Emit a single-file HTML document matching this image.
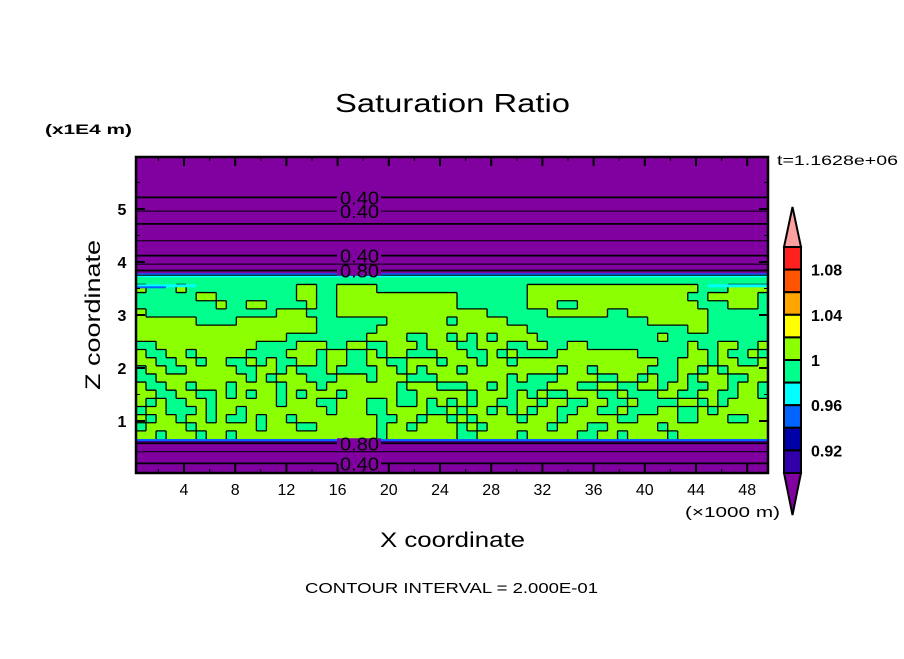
<!DOCTYPE html>
<html><head><meta charset="utf-8"><style>
body{margin:0;background:#fff;width:904px;height:654px;overflow:hidden}
svg text{font-family:"Liberation Sans","DejaVu Sans",sans-serif}
</style></head><body>
<svg id="chart" width="904" height="654" viewBox="0 0 904 654" xmlns="http://www.w3.org/2000/svg">
<text x="335" y="112" font-size="26" textLength="235" lengthAdjust="spacingAndGlyphs">Saturation Ratio</text>
<text x="45" y="134" font-size="14" font-weight="bold" textLength="87" lengthAdjust="spacingAndGlyphs">(x1E4 m)</text>
<text x="777" y="165" font-size="14" textLength="121" lengthAdjust="spacingAndGlyphs">t=1.1628e+06</text>
<g id="plot"></g>
<g id="axes"></g>
<g id="cbar"></g>
<text transform="translate(100,390) rotate(-90)" font-size="21" textLength="150" lengthAdjust="spacingAndGlyphs">Z coordinate</text>
<text x="685" y="517" font-size="15" textLength="95" lengthAdjust="spacingAndGlyphs">(×1000 m)</text>
<text x="380" y="547" font-size="21" textLength="145" lengthAdjust="spacingAndGlyphs">X coordinate</text>
<text x="305" y="593" font-size="15" textLength="293" lengthAdjust="spacingAndGlyphs">CONTOUR INTERVAL = 2.000E-01</text>
</svg>
<script>
const xTicks=[4,8,12,16,20,24,28,32,36,40,44,48];
const zTicks=[1,2,3,4,5];
const upperContours=[5.22,4.96,4.72,4.40,4.12,3.96,3.84,3.75];
const upperLabels=[["0.40",5.22],["0.40",4.96],["0.40",4.12],["0.80",3.84]];
const lowerContours=[0.58,0.42,0.20];
const lowerLabels=[["0.80",0.58],["0.40",0.20]];
const cbarLevels=["1.08","1.04","1","0.96","0.92"];
const cbarColors=["#ff2020","#ff5500","#ffa500","#ffff00","#8cff00","#00ff8c","#00ffff","#0064ff","#0000a8","#3200a8"];
const fieldRows=[
"GGGGGGGGGGGGGGGGGGGGGGGGGGGGGGGGGGGGGGGGGGGGGGGGGGGGGGGGGGGGGGG",
"LGGGLGGGGGGGGGGGLLGGLLLLGGGGGGGGGGGGGGGLLLLLLLLLLLLLLLLLGGGLLLL",
"GGGGGGLLGGGGGGGGLLGGLLLLLLLLLLLLGGGGGGGLLLLLLLLLLLLLLLLGGLLLLLG",
"GGGGGGGGLGGLLGGGGLGGLLLLLLLLLLLLGGGGGGGLLLGGLLLLLLLLLLLLGGGLLLG",
"LGGGGGGGGGGGGGLLLGGGLLLLLLLLLLLLLLLGGGGGGLLLLLLGGLLLLLLLLGGGGGG",
"LLLLLLGGGGLLLLLLLLGGGGGGGLLLLLLGLLLLLGGGGGGGGGGGGGGLLLLLLGGGGGG",
"LLLLLLLLLLLLLLLLLLGGGGGGLLLLLLLLLLLLLLLGGGGGGGGGGGGGGGGLLGGGGGG",
"LLLLLLLLLLLLLLLGGGGGGGGLLLLGGLLGLGLGLLLLGGGGGGGGGGGGLGGGGGGGGGG",
"GGLLLLLLLLLLGGGGLLLGGLLGGLLLGLLLGGLLLGGLLGGLLGGGGGGGGGGLGGLLGGL",
"LGGLLGLLLLLGGGGLLLGLLGGLGLLGGGLLLGGLGLGGGGLLLLLLLLGGGGGLLGLGGLG",
"LLGGLLGLLGGLGLGGLLGLLGGLLGGLLLGLLLGLLGLLLLLLLLLLLLLLGGLLLGLLGGL",
"GLLGGLLLLLGGLLGLGGGLGGGGLLGLGLLLGLLLLLLLLLGLLGLLLLLGGGLLGLGLLLL",
"GGLLLLLLLLLGLGLLLGGGLLLGLLLGGGLLLLLLLGLGGGLLLLGGLLGLGGLGLLLGGLL",
"LGGLLGLLLGLLLLGLLLGLLLLLLLGLLLGGGLLGLGGGGLLLGGLLGGLLGLLGGLLGLLG",
"LLGGLLGGLGLGLLGLGLLLGLLLLLGGLLLLLGLLLGLGLGGLLLGGLGGGLLGGLLGGLLG",
"LGLGGLLGLLLLLLGLLLGGLLLGGLGGLGLGLGLLGGLLGLLGGLLGGLGGGGLLGLGLLLL",
"GLLGGGLGLLGLLLLLLLLGLLLGGLLLLGGLGLLGLGLGLLGGLLGGLGGGLLGGLGLLLLL",
"LGLLGLLGLGGLGLLGLLLLLLLLGGLLGLLGLGLLLLGLLLGLLLLLGGLLLLGGLLLGGLL",
"GLLLLGLLLLLLGLLLGGLLLLLLGLLGLLLLGLGLLLLLLGLLLGGLLLLLGLLLLLLLLLL",
"LLGLLLGLLGLLLLLLLLLLLLLLGLLLLLLLGGLLLLGLLLLLGGLLGLLLLGLLLLLLLLL"
];
const NS="http://www.w3.org/2000/svg";
const X0=136,X1=768,Y0=157,Y1=473;
const xs=v=>132.8+12.8*v;
const zs=v=>474-53*v;
function mk(tag,attrs,parent){const e=document.createElementNS(NS,tag);for(const k in attrs)e.setAttribute(k,attrs[k]);parent.appendChild(e);return e;}
const plot=document.getElementById('plot'),axes=document.getElementById('axes'),cbar=document.getElementById('cbar');
const PURPLE="#8000a0";
let bg=mk('rect',{x:X0,y:Y0,width:X1-X0,height:Y1-Y0,fill:PURPLE},plot);


const bandTop=zs(3.73),bandBot=zs(0.66);
const nR=fieldRows.length,nC=fieldRows[0].length;
const cw=(X1-X0)/nC,ch=(bandBot-bandTop)/nR;
const cmap={L:"#8cff00",G:"#00ff8c",C:"#00ffff",B:"#0064ff"};
let band=mk('rect',{x:X0,y:bandTop-2,width:X1-X0,height:bandBot-bandTop+4,fill:"#00ff8c"},plot);


const cells=mk('g',{},plot);


for(let r=0;r<nR;r++)for(let c=0;c<nC;c++){
  const k=fieldRows[r][c];
  if(k!=='G')mk('rect',{x:X0+c*cw,y:bandTop+r*ch,width:cw+0.3,height:ch+0.3,fill:cmap[k]},cells);
}
const edges=mk('g',{stroke:"#000","stroke-width":1.3,fill:"none"},plot);


const isL=(r,c)=>fieldRows[r][c]==='L';
let d="";
for(let r=0;r<nR;r++)for(let c=0;c<nC;c++){
  if(c+1<nC&&isL(r,c)!==isL(r,c+1)){const x=X0+(c+1)*cw;d+=`M${x} ${bandTop+r*ch}V${bandTop+(r+1)*ch}`;}
  if(r+1<nR&&isL(r,c)!==isL(r+1,c)){const y=bandTop+(r+1)*ch;d+=`M${X0+c*cw} ${y}H${X0+(c+1)*cw}`;}
}
mk('path',{d:d},edges);
// thin cyan/blue streaks at layer edges
mk('rect',{x:X0,y:bandTop-3,width:X1-X0,height:2,fill:"#0064ff"},plot);
mk('rect',{x:X0,y:bandTop-1,width:X1-X0,height:2,fill:"#00ffff"},plot);
mk('rect',{x:X0,y:bandTop+8,width:60,height:3,fill:"#00ffff"},plot);
mk('rect',{x:X0,y:bandTop+10,width:30,height:2,fill:"#0064ff"},plot);
mk('rect',{x:X1-60,y:bandTop+8,width:60,height:3,fill:"#00ffff"},plot);
mk('rect',{x:X0,y:bandBot,width:X1-X0,height:2,fill:"#0064ff"},plot);
mk('rect',{x:X0,y:bandBot+2,width:X1-X0,height:1,fill:"#3200a8"},plot);
const hl=mk('g',{stroke:"#000",fill:"none"},plot);


upperContours.concat(lowerContours).forEach((v,i)=>{
  const y=zs(v);
  mk('line',{x1:X0,x2:X1,y1:y,y2:y,"stroke-width":(i%2?1:1.8)},hl);
});
upperLabels.concat(lowerLabels).forEach(([t,v])=>{
  const y=zs(v);
  mk('rect',{x:337,y:y-5,width:44,height:10,fill:PURPLE},plot);
  const tx=mk('text',{x:340,y:y+7,"font-size":18,textLength:39,lengthAdjust:"spacingAndGlyphs",fill:"#000"},plot);
  tx.textContent=t;
  
  
});
mk('rect',{x:X0,y:Y0,width:X1-X0,height:Y1-Y0,fill:"none",stroke:"#000","stroke-width":2.5},axes);
xTicks.forEach(v=>{
  const x=xs(v);
  mk('line',{x1:x,x2:x,y1:Y1,y2:Y1-9,stroke:"#000","stroke-width":2},axes);
  mk('line',{x1:x,x2:x,y1:Y0,y2:Y0+9,stroke:"#000","stroke-width":2},axes);
  const xm=xs(v-2);
  mk('line',{x1:xm,x2:xm,y1:Y1,y2:Y1-4,stroke:"#000"},axes);
  mk('line',{x1:xm,x2:xm,y1:Y0,y2:Y0+4,stroke:"#000"},axes);
  const t=mk('text',{x:x,y:495,"font-size":16,"text-anchor":"middle"},axes);
  t.textContent=v;
  
  
});
zTicks.forEach(v=>{
  const y=zs(v);
  mk('line',{x1:X0,x2:X0+9,y1:y,y2:y,stroke:"#000","stroke-width":2},axes);
  mk('line',{x1:X1,x2:X1-9,y1:y,y2:y,stroke:"#000","stroke-width":2},axes);
  const ym=zs(v+0.5);
  mk('line',{x1:X0,x2:X0+4,y1:ym,y2:ym,stroke:"#000"},axes);
  mk('line',{x1:X1,x2:X1-4,y1:ym,y2:ym,stroke:"#000"},axes);
  const t=mk('text',{x:122,y:y+6,"font-size":16,"text-anchor":"middle","font-weight":"bold"},axes);
  t.textContent=v;
  
  
});
const CX=784,CW=17,CT=247,CB=473,bh=(CB-CT)/cbarColors.length;
mk('polygon',{points:`${CX},${CT} ${CX+CW/2},207 ${CX+CW},${CT}`,fill:"#ffa0a0",stroke:"#000","stroke-width":2},cbar);
cbarColors.forEach((col,i)=>{
  const r=mk('rect',{x:CX,y:CT+i*bh,width:CW,height:bh,fill:col,stroke:"#000","stroke-width":2},cbar);
  
  
});
mk('polygon',{points:`${CX},${CB} ${CX+CW/2},515 ${CX+CW},${CB}`,fill:PURPLE,stroke:"#000","stroke-width":2},cbar);
cbarLevels.forEach((t,i)=>{
  const y=CT+(i*2+1)*bh;
  const tx=mk('text',{x:811,y:y+6,"font-size":16,"font-weight":"bold"},cbar);
  tx.textContent=t;
  
  
});
</script>
</body></html>
